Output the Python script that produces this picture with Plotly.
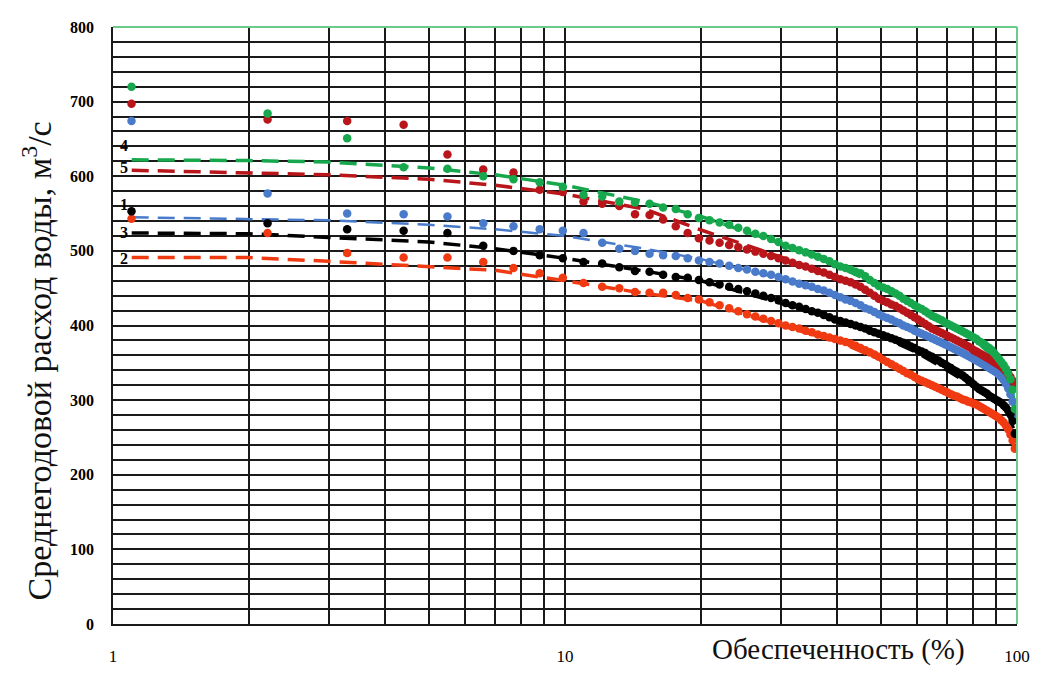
import plotly.graph_objects as go

# ---------------- data ----------------
N_YEARS = 90
# empirical exceedance probability (Weibull plotting position, %), rank m = 1..N
P_EMP = [100.0 * m / (N_YEARS + 1) for m in range(1, N_YEARS + 1)]

Q1_blue = [674, 577, 550, 549, 546, 537, 533, 529, 527, 524, 511, 503, 500, 496, 494, 493, 490, 487,
           485, 483, 480, 477, 475, 472, 470, 468, 465, 462, 459, 456,
           454, 452, 449, 447, 444, 441, 438, 435, 433, 430, 427, 423, 421, 418, 415,
           412, 410, 408, 405, 403, 400, 398, 396, 393, 391, 389, 387, 385, 383, 381,
           379, 377, 375, 373, 371, 369, 367, 365, 363, 361, 359, 357, 355, 353, 351,
           349, 347, 345, 343, 341, 339, 337, 334, 331, 327, 322, 316, 308, 298, 282]

Q2_red = [543, 524, 497, 491, 491, 485, 477, 470, 464, 457, 452, 450, 445, 444, 444, 441, 437, 435,
          431, 427, 423, 419, 415, 412, 409, 406, 403, 400, 398, 396,
          393, 391, 388, 386, 384, 382, 380, 378, 376, 373, 370, 367, 364, 361, 358,
          354, 351, 348, 345, 342, 339, 336, 334, 331, 328, 326, 324, 322, 320, 318,
          316, 314, 312, 310, 308, 306, 305, 303, 301, 300, 298, 297, 295, 294, 292,
          290, 288, 286, 284, 282, 280, 278, 276, 273, 270, 266, 261, 254, 246, 235]

Q3_black = [553, 537, 529, 527, 524, 507, 500, 494, 490, 485, 483, 478, 473, 472, 468, 465, 464, 461,
            458, 455, 452, 449, 446, 443, 440, 437, 434, 430, 427, 425,
            422, 419, 417, 414, 411, 408, 406, 404, 402, 400, 398, 396, 393, 391, 389,
            387, 385, 383, 381, 379, 377, 375, 372, 370, 367, 365, 363, 360, 358, 355,
            353, 350, 348, 345, 343, 340, 338, 335, 333, 330, 327, 324, 321, 318, 315,
            313, 311, 309, 306, 304, 302, 300, 298, 296, 293, 290, 286, 281, 272, 255]

Q4_green = [720, 684, 651, 612, 610, 600, 596, 592, 586, 575, 573, 566, 565, 563, 558, 556, 549, 544,
            541, 538, 535, 531, 527, 523, 520, 516, 512, 507, 504, 501,
            498, 495, 492, 489, 486, 482, 479, 477, 475, 472, 470, 466, 461, 457, 453,
            451, 449, 446, 443, 440, 436, 433, 430, 427, 424, 422, 419, 416, 413, 411,
            409, 407, 404, 402, 400, 398, 396, 394, 392, 390, 388, 386, 384, 382, 379,
            377, 375, 372, 370, 367, 363, 359, 355, 351, 347, 342, 336, 328, 314, 288]

Q5_darkred = [697, 676, 674, 669, 629, 609, 605, 582, 579, 566, 563, 560, 549, 548, 542, 533, 524, 517,
              514, 511, 508, 505, 502, 499, 496, 493, 490, 487, 484, 481,
              479, 476, 473, 471, 468, 465, 462, 460, 458, 455, 452, 448, 444, 440, 436,
              433, 431, 428, 426, 423, 420, 417, 414, 411, 408, 405, 402, 399, 396, 394,
              392, 390, 388, 386, 384, 382, 380, 378, 376, 374, 372, 370, 367, 365, 363,
              361, 359, 357, 355, 353, 351, 349, 347, 345, 342, 339, 335, 331, 326, 318]

# theoretical (fitted) curves
P_TH = [1.1, 2, 3, 5, 7, 10, 15, 20, 30, 40, 50, 60, 70, 80, 90, 95, 99]
T1_blue = [545, 543, 541, 535, 529, 520, 503, 489, 463, 440, 413, 391, 371, 353, 335, 315, 285]
T2_red = [491, 491, 486, 479, 474, 460, 443, 433, 400, 379, 354, 328, 308, 295, 282, 270, 235]
T3_black = [524, 523, 518, 512, 503, 490, 473, 460, 430, 407, 386, 364, 340, 318, 300, 288, 255]
T4_green = [622, 621, 619, 611, 602, 588, 566, 546, 510, 480, 452, 425, 402, 382, 355, 338, 295]
T5_darkred = [608, 605, 602, 596, 588, 576, 556, 528, 492, 465, 437, 410, 386, 367, 350, 338, 318]

CURVE_LABELS = ["4", "5", "1", "3", "2"]
CURVE_LABEL_Y = [641, 612, 562, 525, 490]

X_TICKS = [1, 10, 100]
Y_TICKS = [0, 100, 200, 300, 400, 500, 600, 700, 800]

# ---------------- styling ----------------
C_BLUE = "#4A7BCB"
C_RED = "#F03A12"
C_BLACK = "#000000"
C_GREEN = "#17A84E"
C_DARKRED = "#B8161A"
SERIF = "Liberation Serif, Times New Roman, serif"
GRID = "#1a1a1a"

series = [
    (Q1_blue, T1_blue, C_BLUE, 2.5),
    (Q2_red, T2_red, C_RED, 3.5),
    (Q3_black, T3_black, C_BLACK, 3.5),
    (Q5_darkred, T5_darkred, C_DARKRED, 3.5),
    (Q4_green, T4_green, C_GREEN, 3.5),
]

fig = go.Figure()
for q, t, col, lw in series:
    fig.add_trace(go.Scatter(x=P_TH, y=t, mode="lines",
                             line=dict(color=col, width=lw, dash="17px,9px"),
                             showlegend=False, hoverinfo="skip"))
for q, t, col, lw in series:
    fig.add_trace(go.Scatter(x=P_EMP, y=q, mode="markers",
                             marker=dict(color=col, size=8.5, line=dict(width=0)),
                             showlegend=False))

minor_x = [2, 3, 4, 5, 6, 7, 8, 9, 20, 30, 40, 50, 60, 70, 80, 90]

fig.update_xaxes(type="log", range=[0, 2],
                 tickvals=X_TICKS, ticktext=[str(v) for v in X_TICKS],
                 tickfont=dict(family=SERIF, size=17, color="black"),
                 showgrid=True, gridcolor=GRID, gridwidth=1.6,
                 minor=dict(tickvals=minor_x, showgrid=True, gridcolor=GRID, gridwidth=1.6, ticks=""),
                 showline=True, linecolor=GRID, linewidth=1.6,
                 ticks="", ticklabelstandoff=16, zeroline=False)
fig.update_yaxes(range=[0, 800], tickvals=Y_TICKS,
                 tickfont=dict(family=SERIF, size=16, color="black", weight="bold"),
                 showgrid=True, gridcolor=GRID, gridwidth=1.6,
                 minor=dict(dtick=20, showgrid=True, gridcolor=GRID, gridwidth=1.6, ticks=""),
                 showline=True, linecolor=GRID, linewidth=1.6,
                 ticks="", ticklabelstandoff=14, zeroline=False)

annotations = []
for lab, yv in zip(CURVE_LABELS, CURVE_LABEL_Y):
    annotations.append(dict(text=lab, xref="paper", x=0.012, yref="y", y=yv,
                            showarrow=False, xanchor="center", yanchor="middle",
                            font=dict(family=SERIF, size=16, color="black", weight="bold")))
annotations.append(dict(text="Обеспеченность (%)", xref="paper", x=0.802, yref="paper", y=-0.043,
                        showarrow=False, xanchor="center", yanchor="middle",
                        font=dict(family=SERIF, size=29, color="#111")))
annotations.append(dict(text="Среднегодовой расход воды, м<sup>3</sup>/с", xref="paper", x=-0.084,
                        yref="paper", y=0.44, textangle=-90,
                        showarrow=False, xanchor="center", yanchor="middle",
                        font=dict(family=SERIF, size=34, color="#111")))

shapes = [
    dict(type="line", xref="paper", yref="paper", x0=0, x1=1, y0=1, y1=1,
         line=dict(color="#6CCB8A", width=2)),
    dict(type="line", xref="paper", yref="paper", x0=1, x1=1, y0=0, y1=1,
         line=dict(color="#6CCB8A", width=2)),
]

fig.update_layout(width=1042, height=678,
                  margin=dict(l=113, r=20, t=27, b=42),
                  paper_bgcolor="white", plot_bgcolor="white",
                  annotations=annotations, shapes=shapes, showlegend=False)

fig.write_html("out.html")
